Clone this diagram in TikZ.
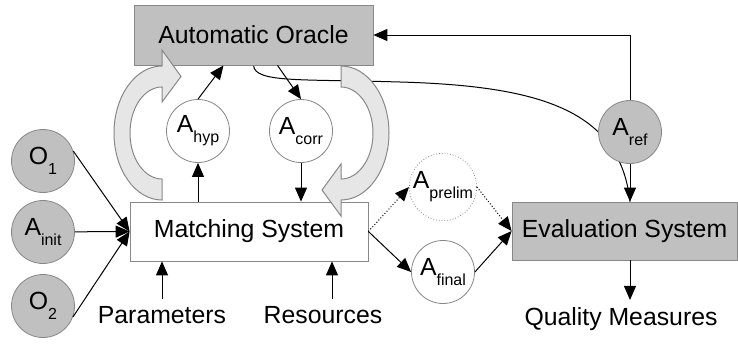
\documentclass[tikz,border=0pt]{standalone}
\usepackage{fontspec}
\setmainfont{Liberation Sans}
\usepackage{tikz}
\usetikzlibrary{positioning,calc,arrows.meta}
\pgfdeclarelayer{background}
\pgfsetlayers{background,main}
\definecolor{boxgray}{HTML}{C0C0C0}
\definecolor{cyclegray}{HTML}{E6E6E6}
\definecolor{edgegray}{HTML}{888888}
\newcommand{\mainsize}{\fontsize{12.4}{14}\selectfont}
\newcommand{\subsize}{\fontsize{8}{9}\selectfont}
\newcommand{\sublab}[2]{#1\raisebox{-5pt}{\subsize #2}}
\tikzset{
  sysbox/.style={rectangle, draw=edgegray, fill=boxgray, minimum height=30pt, inner sep=0pt, font=\mainsize},
  setc/.style={circle, draw=edgegray, fill=boxgray, minimum size=31.5pt, inner sep=0pt, font=\mainsize},
  alnc/.style={circle, draw=edgegray, fill=white, minimum size=31.5pt, inner sep=0pt, font=\mainsize},
  txt/.style={font=\mainsize, anchor=base},
  conn/.style={draw=black, line width=0.5pt, -{Triangle[length=7pt,width=6pt]}},
  cyc/.style={draw=edgegray, fill=cyclegray, line width=0.5pt}
}
\begin{document}
\begin{tikzpicture}[x=0.5pt,y=0.5pt]
  \useasboundingbox (0,0) rectangle (738,-343);
  % systems
  \node[sysbox, minimum width=119.5pt] (oracle) at (253.5,-35) {Automatic Oracle};
  \node[sysbox, fill=white, minimum width=119pt, minimum height=29.5pt] (match) at (249,-231.5) {Matching System};
  \node[sysbox, minimum width=112.5pt, minimum height=29pt] (eval) at (624.5,-231) {Evaluation System};
  % alignments and ontologies
  \node[setc] (o1) at (43,-161) {\sublab{O}{1}};
  \node[setc] (ainit) at (43,-232) {\sublab{A}{init}};
  \node[setc] (o2) at (43,-306) {\sublab{O}{2}};
  \node[alnc] (hyp) at (198,-131) {\sublab{A}{hyp}};
  \node[alnc] (corr) at (301,-131) {\sublab{A}{corr}};
  \node[setc] (aref) at (630,-132) {\sublab{A}{ref}};
  \node[alnc, densely dotted] (prelim) at (443,-187) {\sublab{A}{prelim}};
  \node[alnc] (final) at (443,-272) {\sublab{A}{final}};
  % inputs and outputs
  \node[txt] (params) at (162,-323) {Parameters};
  \node[txt] (res) at (323,-323) {Resources};
  \node[txt] (qm) at (621,-325) {Quality Measures};
  % interaction loop
  \draw[cyc] (162,-200) arc[start angle=270, end angle=90, x radius=48, y radius=67]
    -- (162,-50) -- (181,-76.5) -- (162,-102) -- (162,-87)
    arc[start angle=90, end angle=270, x radius=32, y radius=46] -- cycle;
  \draw[cyc] (341,-66) arc[start angle=90, end angle=-90, x radius=48, y radius=67]
    -- (341,-216) -- (322,-190) -- (341,-164) -- (341,-179)
    arc[start angle=-90, end angle=90, x radius=32, y radius=46] -- cycle;
  % connectors
  \begin{pgfonlayer}{background}
    \draw[line width=0.5pt] (oracle.south) .. controls (255,-83) and (300,-79) .. (400,-82)
      .. controls (540,-86) and (620,-110) .. (aref |- eval.north);
  \end{pgfonlayer}
  \draw[conn] (o1.18) -- (match.west);
  \draw[conn] (ainit) -- (match.west);
  \draw[conn] (o2.-20) -- (match.west);
  \draw[conn] (match.north -| hyp) -- (hyp);
  \draw[conn] (corr) -- (corr |- match.north);
  \draw[conn] (hyp.north) -- ([xshift=-15pt]oracle.south);
  \draw[conn] ([xshift=12pt]oracle.south) -- (corr.north);
  \draw[conn] (aref.north) |- (oracle.east);
  \draw[conn] (aref) -- (aref |- eval.north);
  \draw[conn, densely dotted] (match.east) -- (prelim.west);
  \draw[conn] (match.east) -- (final.west);
  \draw[conn, densely dotted] (prelim.east) -- (eval.west);
  \draw[conn] (final.east) -- (eval.west);
  \draw[conn] (eval.south -| aref) -- (qm.north -| aref);
  \draw[conn] (params.north) -- (params.north |- match.south);
  \draw[conn] ([xshift=4.5pt]res.north) -- ([xshift=4.5pt]res.north |- match.south);
\end{tikzpicture}
\end{document}
